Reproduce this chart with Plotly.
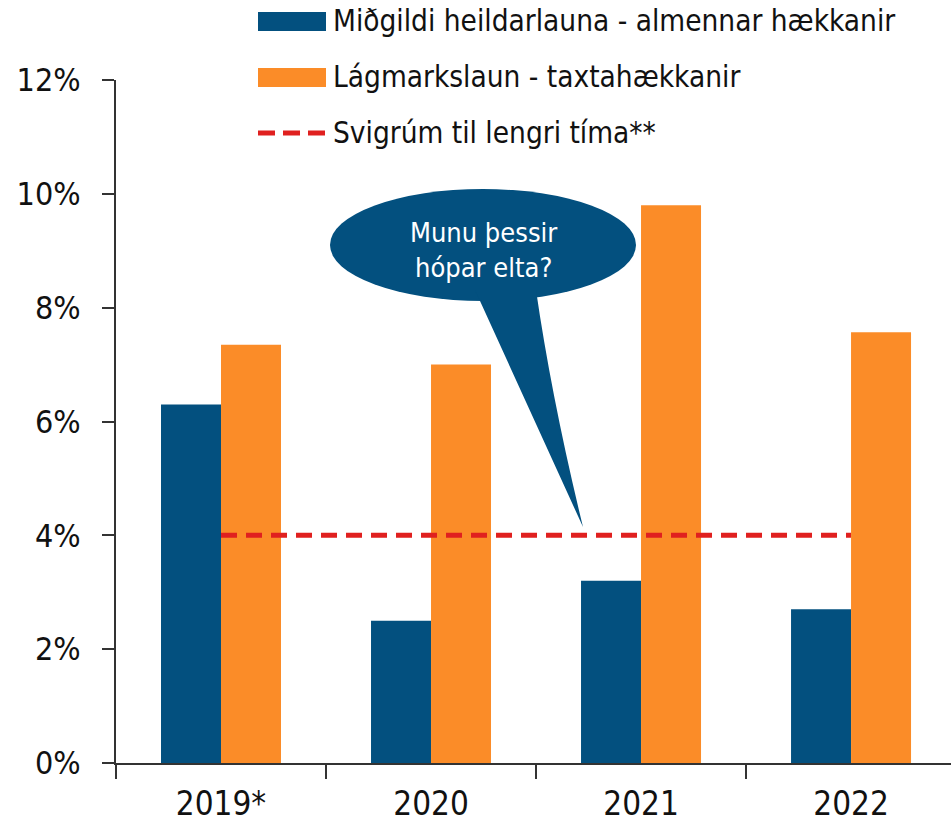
import plotly.graph_objects as go

categories = ["2019*", "2020", "2021", "2022"]
median_total_pay = [6.3, 2.5, 3.2, 2.7]
minimum_wage = [7.35, 7.0, 9.8, 7.57]
long_term_scope = [4, 4, 4, 4]
legend_names = ["Miðgildi heildarlauna - almennar hækkanir",
                "Lágmarkslaun - taxtahækkanir",
                "Svigrúm til lengri tíma**"]
y_ticks = [0, 2, 4, 6, 8, 10, 12]
bubble_text = "Munu þessir<br>hópar elta?"

BLUE = "#03507f"
ORANGE = "#fb8c28"
RED = "#e0201f"
FONT = "DejaVu Sans Condensed, Liberation Sans, sans-serif"

W, H = 951, 826
L, R, T, B = 116, 0, 80, 63
pw, ph = W - L - R, H - T - B

def px_x(px):
    return (px - L) / pw

def px_y(py):
    return (H - B - py) / ph

fig = go.Figure()
fig.add_trace(go.Bar(x=categories, y=median_total_pay, name=legend_names[0],
                     marker=dict(color=BLUE, line=dict(width=0)), showlegend=False))
fig.add_trace(go.Bar(x=categories, y=minimum_wage, name=legend_names[1],
                     marker=dict(color=ORANGE, line=dict(width=0)), showlegend=False))
fig.add_trace(go.Scatter(x=categories, y=long_term_scope, name=legend_names[2], mode="lines",
                         line=dict(color=RED, width=5, dash="16px,9px"), showlegend=False))

shapes = []
# speech bubble
shapes.append(dict(type="circle", xref="paper", yref="paper",
                   x0=px_x(330), x1=px_x(636), y0=px_y(301), y1=px_y(189),
                   fillcolor=BLUE, line=dict(width=0), layer="above"))
shapes.append(dict(type="path", xref="paper", yref="paper",
                   path=f"M {px_x(475)},{px_y(290)} L {px_x(583)},{px_y(527)} "
                        f"Q {px_x(552)},{px_y(400)} {px_x(536)},{px_y(290)} Z",
                   fillcolor=BLUE, line=dict(width=0), layer="above"))
# custom legend
legend_rows = [21, 77, 133]
shapes.append(dict(type="rect", xref="paper", yref="paper",
                   x0=px_x(258), x1=px_x(326), y0=px_y(31), y1=px_y(12),
                   fillcolor=BLUE, line=dict(width=0)))
shapes.append(dict(type="rect", xref="paper", yref="paper",
                   x0=px_x(258), x1=px_x(326), y0=px_y(87), y1=px_y(68),
                   fillcolor=ORANGE, line=dict(width=0)))
shapes.append(dict(type="line", xref="paper", yref="paper",
                   x0=px_x(258), x1=px_x(326), y0=px_y(133), y1=px_y(133),
                   line=dict(color=RED, width=5, dash="17px,8px")))

annotations = []
for name, row in zip(legend_names, legend_rows):
    annotations.append(dict(text=name, xref="paper", yref="paper",
                            x=px_x(331), y=px_y(row), xanchor="left", yanchor="middle",
                            showarrow=False, font=dict(family=FONT, size=29.5, color="#111111")))
annotations.append(dict(text=bubble_text, xref="paper", yref="paper",
                        x=px_x(483), y=px_y(250), xanchor="center", yanchor="middle",
                        showarrow=False, font=dict(family=FONT, size=27, color="white")))

fig.update_layout(
    width=W, height=H,
    margin=dict(l=L, r=R, t=T, b=B),
    paper_bgcolor="white", plot_bgcolor="white",
    barmode="group", bargap=0.4286, bargroupgap=0,
    font=dict(family=FONT, size=33, color="#111111"),
    shapes=shapes, annotations=annotations,
    xaxis=dict(type="category", range=[-0.5, 3.476], tickson="boundaries",
               ticks="outside", ticklen=14, tickwidth=2, tickcolor="#333333",
               showline=True, linecolor="#333333", linewidth=2, showgrid=False,
               ticklabelstandoff=10, tickfont=dict(size=33)),
    yaxis=dict(range=[0, 12], tickvals=y_ticks, ticktext=[f"{v}%" for v in y_ticks],
               ticks="outside", ticklen=12, tickwidth=2, tickcolor="#333333",
               showline=True, linecolor="#333333", linewidth=2, showgrid=False,
               zeroline=False, ticklabelstandoff=15, tickfont=dict(size=32)),
)

fig.write_html("out.html", config={"displayModeBar": False},
               post_script="document.body.style.margin='0';")
